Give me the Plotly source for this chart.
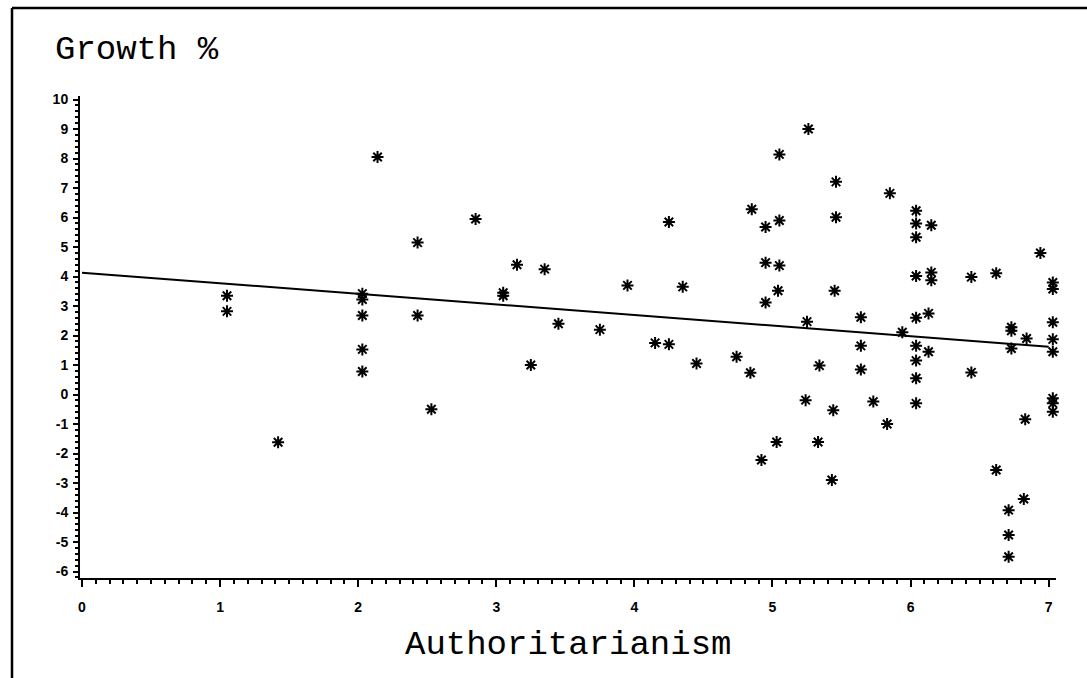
import plotly.graph_objects as go

# Data (Authoritarianism vs Growth %)
auth = [1.05, 1.05, 1.42,
        2.03, 2.03, 2.03, 2.03, 2.03, 2.14, 2.43, 2.43, 2.53, 2.85,
        3.05, 3.05, 3.15, 3.25, 3.35, 3.45, 3.75, 3.95,
        4.15, 4.25, 4.25, 4.35, 4.45, 4.74, 4.84, 4.85, 4.92, 4.95, 4.95, 4.95,
        5.03, 5.05, 5.05, 5.05, 5.04, 5.24, 5.25, 5.26, 5.33, 5.34, 5.44, 5.43,
        5.46, 5.46, 5.45, 5.64, 5.64, 5.64, 5.73, 5.83, 5.85, 5.94,
        6.04, 6.04, 6.04, 6.04, 6.04, 6.04, 6.04, 6.04, 6.04,
        6.15, 6.15, 6.15, 6.13, 6.13, 6.44, 6.44, 6.62, 6.62,
        6.73, 6.73, 6.73, 6.71, 6.71, 6.71, 6.82, 6.83, 6.84, 6.94,
        7.03, 7.03, 7.03, 7.03, 7.03, 7.03, 7.03, 7.03]
growth = [3.35, 2.82, -1.62,
          3.42, 3.22, 2.68, 1.53, 0.78, 8.05, 5.15, 2.68, -0.50, 5.95,
          3.45, 3.35, 4.40, 1.00, 4.25, 2.40, 2.20, 3.70,
          1.75, 5.85, 1.70, 3.65, 1.05, 1.28, 0.74, 6.28, -2.22, 5.68, 4.47, 3.12,
          -1.61, 8.14, 5.90, 4.37, 3.52, -0.19, 2.47, 9.00, -1.61, 0.98, -0.53, -2.90,
          7.21, 6.01, 3.52, 2.62, 1.65, 0.85, -0.24, -1.00, 6.82, 2.11,
          6.23, 5.80, 5.33, 4.02, 2.60, 1.65, 1.15, 0.55, -0.30,
          5.74, 4.14, 3.87, 2.75, 1.45, 3.98, 0.75, 4.11, -2.56,
          2.28, 2.16, 1.56, -3.92, -4.76, -5.50, -3.54, -0.84, 1.90, 4.80,
          3.80, 3.58, 2.45, 1.87, 1.45, -0.13, -0.30, -0.58]

# Fitted line endpoints
trend_x = [0, 7]
trend_y = [4.13, 1.62]

x_ticks = [0, 1, 2, 3, 4, 5, 6, 7]
y_ticks = list(range(-6, 11))

fig = go.Figure()
fig.add_trace(go.Scatter(x=trend_x, y=trend_y, mode="lines",
                         line=dict(color="black", width=2), showlegend=False,
                         hoverinfo="skip"))
fig.add_trace(go.Scatter(x=auth, y=growth, mode="markers",
                         marker=dict(symbol="asterisk-open", size=10, color="black",
                                     line=dict(color="black", width=2)),
                         showlegend=False, cliponaxis=False))

L, R, T, B = 80, 31, 96, 100
W, H = 1087, 678
pw = W - L - R
ph = H - T - B


def px_x(px):
    return (px - L) / pw


def px_y(py):
    return (H - B - py) / ph


tickfont = dict(family="Liberation Sans, Arial, sans-serif", size=14, color="black", weight="bold")

fig.update_layout(
    width=W, height=H,
    margin=dict(l=L, r=R, t=T, b=B),
    paper_bgcolor="white", plot_bgcolor="white",
    xaxis=dict(range=[-0.0145, 7.053], tickvals=x_ticks, ticktext=[str(v) for v in x_ticks],
               showgrid=False, zeroline=False, showline=True, linecolor="black", linewidth=2,
               ticks="outside", ticklen=7, tickwidth=2, tickcolor="black",
               minor=dict(dtick=0.1, tick0=0, ticks="outside", ticklen=4, tickwidth=1.5, tickcolor="black"),
               tickfont=tickfont, ticklabelstandoff=8),
    yaxis=dict(range=[-6.22, 10.12], tickvals=y_ticks, ticktext=[str(v) for v in y_ticks],
               showgrid=False, zeroline=False, showline=True, linecolor="black", linewidth=2,
               ticks="outside", ticklen=5, tickwidth=2, tickcolor="black",
               minor=dict(dtick=0.2, tick0=0, ticks="outside", ticklen=3, tickwidth=1.5, tickcolor="black"),
               tickfont=tickfont, ticklabelstandoff=2),
    annotations=[
        dict(text="Growth %", xref="paper", yref="paper", x=px_x(53), y=px_y(50),
             xanchor="left", yanchor="middle", showarrow=False,
             font=dict(family="Liberation Mono, Courier New, monospace", size=34, color="black")),
        dict(text="Authoritarianism", xref="paper", yref="paper", x=px_x(568), y=px_y(645),
             xanchor="center", yanchor="middle", showarrow=False,
             font=dict(family="Liberation Mono, Courier New, monospace", size=34, color="black")),
    ],
    shapes=[
        dict(type="line", xref="paper", yref="paper", x0=px_x(12), x1=px_x(12), y0=px_y(8), y1=px_y(678),
             line=dict(color="black", width=2.5)),
        dict(type="line", xref="paper", yref="paper", x0=px_x(12), x1=px_x(1087), y0=px_y(8), y1=px_y(8),
             line=dict(color="black", width=2.5)),
    ],
)

fig.write_html("out.html")
